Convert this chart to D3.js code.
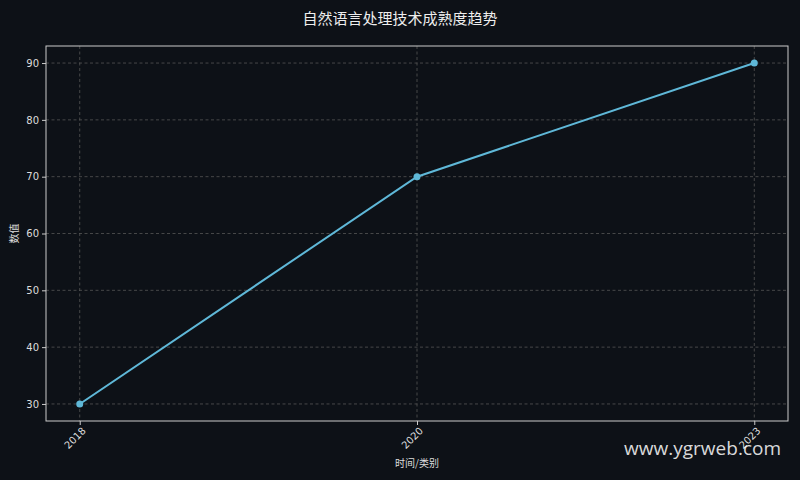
<!DOCTYPE html>
<html>
<head>
<meta charset="utf-8">
<script src="https://cdn.jsdelivr.net/npm/d3@7"></script>
<style>
  html, body { margin: 0; padding: 0; background: #0d1117; }
  svg { display: block; font-family: "DejaVu Sans", "Noto Sans CJK SC", sans-serif; }
</style>
</head>
<body>
<div id="chart"></div>
<script>
// 数据
var years = ["2018", "2020", "2023"];
var values = [30, 70, 90];
var yTicks = [30, 40, 50, 60, 70, 80, 90];

var width = 800, height = 480;
var margin = { top: 46, right: 12, bottom: 59, left: 46 };

var svg = d3.select("#chart").append("svg")
  .attr("width", width)
  .attr("height", height);

svg.append("rect")
  .attr("width", width)
  .attr("height", height)
  .attr("fill", "#0d1117");

var x = d3.scalePoint()
  .domain(years)
  .range([margin.left, width - margin.right])
  .padding(0.1);

var y = d3.scaleLinear()
  .domain([27, 93])
  .range([height - margin.bottom, margin.top]);

// 网格
var grid = svg.append("g")
  .attr("stroke", "#555")
  .attr("stroke-width", 0.8)
  .attr("stroke-dasharray", "3,2.5");

grid.selectAll(".gy")
  .data(yTicks)
  .enter().append("line")
  .attr("x1", margin.left)
  .attr("x2", width - margin.right)
  .attr("y1", function(d) { return y(d); })
  .attr("y2", function(d) { return y(d); });

grid.selectAll(".gx")
  .data(years)
  .enter().append("line")
  .attr("y1", margin.top)
  .attr("y2", height - margin.bottom)
  .attr("x1", function(d) { return x(d); })
  .attr("x2", function(d) { return x(d); });

// 坐标轴
var xAxis = svg.append("g")
  .attr("transform", "translate(0," + (height - margin.bottom) + ")")
  .call(d3.axisBottom(x).tickSize(4).tickPadding(3));

xAxis.selectAll("text")
  .attr("transform", "rotate(-45)")
  .attr("text-anchor", "end")
  .attr("dx", "-0.3em")
  .attr("dy", "0.5em");

var yAxis = svg.append("g")
  .attr("transform", "translate(" + margin.left + ",0)")
  .call(d3.axisLeft(y).tickValues(yTicks).tickSize(4).tickPadding(3));

[xAxis, yAxis].forEach(function(g) {
  g.select(".domain").remove();
  g.selectAll(".tick line").attr("stroke", "#ccc");
  g.selectAll(".tick text")
    .attr("fill", "#ddd")
    .attr("font-size", 10)
    .attr("font-family", "DejaVu Sans, sans-serif");
});

// 边框
svg.append("rect")
  .attr("x", margin.left)
  .attr("y", margin.top)
  .attr("width", width - margin.left - margin.right)
  .attr("height", height - margin.top - margin.bottom)
  .attr("fill", "none")
  .attr("stroke", "#ccc")
  .attr("stroke-width", 1);

// 折线
var line = d3.line()
  .x(function(d, i) { return x(years[i]); })
  .y(function(d) { return y(d); });

svg.append("path")
  .datum(values)
  .attr("fill", "none")
  .attr("stroke", "#5fb8d8")
  .attr("stroke-width", 2)
  .attr("d", line);

svg.append("g")
  .selectAll("circle")
  .data(values)
  .enter().append("circle")
  .attr("cx", function(d, i) { return x(years[i]); })
  .attr("cy", function(d) { return y(d); })
  .attr("r", 3.5)
  .attr("fill", "#5fb8d8");

// 标题与轴标签
svg.append("text")
  .attr("x", width / 2)
  .attr("y", 24)
  .attr("text-anchor", "middle")
  .attr("fill", "#eee")
  .attr("font-size", 15)
  .attr("font-family", "Noto Sans CJK SC, sans-serif")
  .text("自然语言处理技术成熟度趋势");

svg.append("text")
  .attr("x", (margin.left + width - margin.right) / 2)
  .attr("y", 467)
  .attr("text-anchor", "middle")
  .attr("fill", "#ddd")
  .attr("font-size", 10)
  .attr("font-family", "Noto Sans CJK SC, sans-serif")
  .text("时间/类别");

svg.append("text")
  .attr("transform", "translate(18," + ((margin.top + height - margin.bottom) / 2) + ") rotate(-90)")
  .attr("text-anchor", "middle")
  .attr("fill", "#ddd")
  .attr("font-size", 10)
  .attr("font-family", "Noto Sans CJK SC, sans-serif")
  .text("数值");

// 水印
svg.append("text")
  .attr("x", 781)
  .attr("y", 455)
  .attr("text-anchor", "end")
  .attr("fill", "#fff")
  .attr("fill-opacity", 0.85)
  .attr("font-size", 19)
  .attr("font-family", "Open Sans, sans-serif")
  .text("www.ygrweb.com");
</script>
</body>
</html>
